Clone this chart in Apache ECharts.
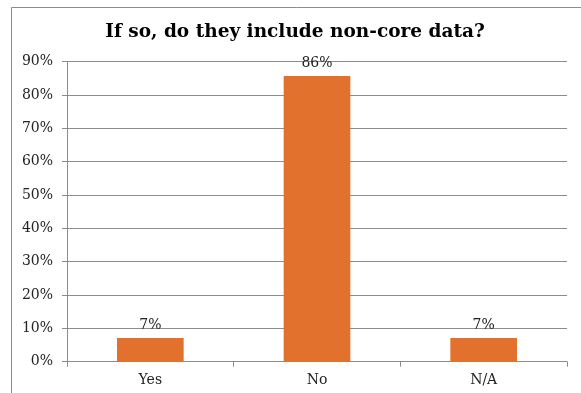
<!DOCTYPE html>
<html><head><meta charset="utf-8">
<script src="https://cdn.jsdelivr.net/npm/echarts@6/dist/echarts.min.js"></script>
<style>html,body{margin:0;padding:0;background:#fff}#c{width:581px;height:393px}</style>
</head><body><div id="c"></div>
<script>
const titleText = "If so, do they include non-core data?";
const categories = ["Yes", "No", "N/A"];
const values = [7.1, 85.7, 7.1];
const yTicks = {min: 0, max: 90, interval: 10};

const chart = echarts.init(document.getElementById('c'), null, {renderer: 'canvas'});
const serif = "'DejaVu Serif', serif";
chart.setOption({
  animation: false,
  title: {
    text: titleText, left: 290, top: 18, textAlign: 'center',
    textStyle: {fontFamily: serif, fontWeight: 'bold', fontSize: 18.5, color: '#000'}
  },
  graphic: [
    {type: 'polyline', shape: {points: [[11.5, 393], [11.5, 7.5], [581, 7.5]]},
     style: {stroke: '#8c8c8c', lineWidth: 1, fill: null}}
  ],
  grid: {left: 67, right: 14, top: 61.7, bottom: 31.3, containLabel: false},
  xAxis: {
    type: 'category', data: categories,
    axisLine: {lineStyle: {color: '#8c8c8c'}},
    axisTick: {show: true, length: 5, lineStyle: {color: '#8c8c8c'}},
    axisLabel: {fontFamily: serif, fontSize: 14, color: '#222', margin: 12}
  },
  yAxis: {
    type: 'value', min: yTicks.min, max: yTicks.max, interval: yTicks.interval,
    axisLine: {show: true, lineStyle: {color: '#8c8c8c'}},
    axisTick: {show: true, length: 5, lineStyle: {color: '#8c8c8c'}},
    splitLine: {lineStyle: {color: '#8c8c8c'}},
    axisLabel: {fontFamily: serif, fontSize: 14, color: '#222', margin: 14,
      formatter: v => v + '%'}
  },
  series: [{
    type: 'bar', data: values, barWidth: '40%',
    itemStyle: {color: '#E2712E'},
    label: {show: true, position: 'top', distance: 6, fontFamily: serif, fontSize: 14, color: '#222',
      formatter: p => Math.round(p.value) + '%'}
  }]
});
</script></body></html>
